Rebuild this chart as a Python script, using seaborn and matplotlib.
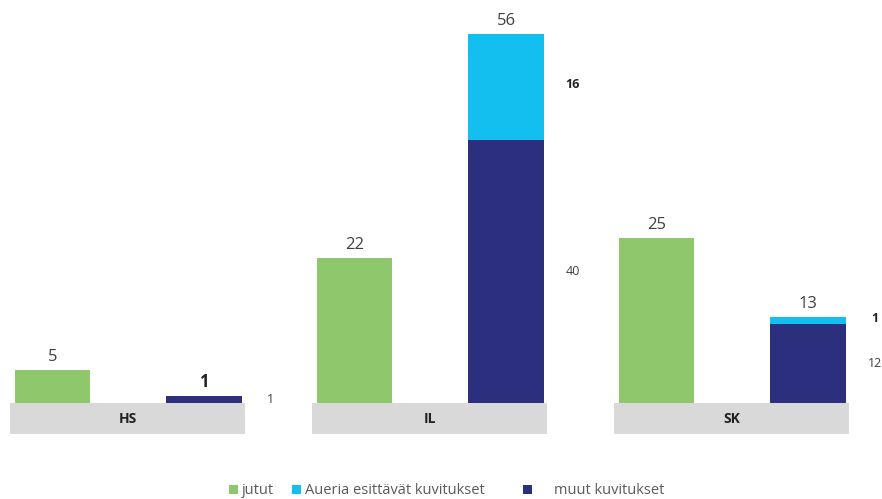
import matplotlib
matplotlib.use('Agg')
import matplotlib.pyplot as plt
from matplotlib.patches import Patch
import seaborn as sns

# data
lehdet = ['HS', 'IL', 'SK']
jutut = [5, 22, 25]
auer_kuvat = [0, 16, 1]
muut_kuvat = [1, 40, 12]
sarjat = ['jutut', 'Aueria esittävät kuvitukset', 'muut kuvitukset']

vihrea = '#8FC76C'
syaani = '#12BFEE'
tumma = '#2B2F7D'
harmaa = '#D9D9D9'
teksti = '#404040'

sns.set_theme(style='white')
plt.rcParams['font.family'] = ['Open Sans', 'DejaVu Sans']

fig = plt.figure(figsize=(8.82, 4.99), dpi=100)
kategoriat = ['jutut', 'kuvitukset']

for i, lehti in enumerate(lehdet):
    vasen = (10 + 302 * i) / 882
    ax = fig.add_axes([vasen, 65 / 499, 235 / 882, 434 / 499])
    yht = auer_kuvat[i] + muut_kuvat[i]
    # kokonaispalkki syaanina, muut kuvitukset sen paalle
    sns.barplot(x=kategoriat, y=[jutut[i], yht], hue=kategoriat,
                palette=[vihrea, syaani], legend=False, width=0.5,
                order=kategoriat, ax=ax, saturation=1, linewidth=0)
    sns.barplot(x=['kuvitukset'], y=[muut_kuvat[i]], color=tumma,
                order=kategoriat, width=0.5, ax=ax, saturation=1,
                linewidth=0)
    ax.set_xlim(-0.28, 1.27)
    ax.set_ylim(-4.7, 61.2)
    ax.axhspan(-4.7, 0, color=harmaa, zorder=0, linewidth=0)
    ax.text(0.5, -2.35, lehti, ha='center', va='center', fontsize=10,
            fontweight='bold', color='#222222')
    # summat palkkien yläpuolelle
    ax.annotate(str(jutut[i]), (0, jutut[i]), xytext=(0, 4),
                textcoords='offset points', ha='center', va='bottom',
                fontsize=12, color=teksti)
    paino = 'bold' if yht < 3 else 'normal'
    ax.annotate(str(yht), (1, yht), xytext=(0, 4),
                textcoords='offset points', ha='center', va='bottom',
                fontsize=12, color='#222222' if yht < 3 else teksti,
                fontweight=paino)
    # osien arvot oikealle
    if muut_kuvat[i] > 0:
        ax.text(1.44, max(muut_kuvat[i] / 2, 0.3), str(muut_kuvat[i]),
                ha='center', va='center', fontsize=9, color=teksti)
    if auer_kuvat[i] > 0:
        ax.text(1.44, muut_kuvat[i] + auer_kuvat[i] / 2 + 0.3,
                str(auer_kuvat[i]), ha='center', va='center', fontsize=9,
                color='#222222', fontweight='bold')
    ax.set_axis_off()

# selite: kolme erillistä kohtaa kuten alkuperäisessä
paikat = [229 / 882, 292 / 882, 523 / 882]
valit = [0.3, 0.3, 1.5]
for nimi, vari, x, vali in zip(sarjat, [vihrea, syaani, tumma], paikat, valit):
    fig.legend([Patch(facecolor=vari, edgecolor='none')], [nimi],
               loc='center left', bbox_to_anchor=(x, 8 / 499),
               frameon=False, fontsize=10.5, handlelength=0.6,
               handleheight=0.6, handletextpad=vali, borderpad=0,
               borderaxespad=0, labelcolor='#5a5a5a')

fig.savefig('out.png', dpi=100)
